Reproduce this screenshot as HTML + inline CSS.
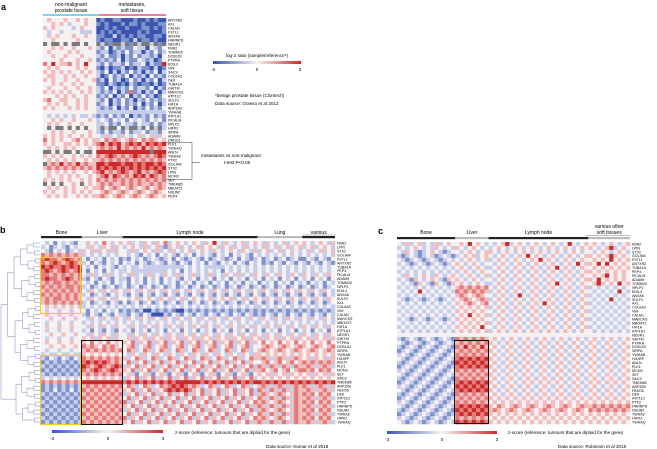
<!DOCTYPE html>
<html><head><meta charset="utf-8">
<style>
html,body{margin:0;padding:0;background:#fff;}
svg{display:block;font-family:"Liberation Sans",sans-serif;}
</style></head>
<body>
<svg id="fig" width="657" height="449" viewBox="0 0 657 449">
<defs>
<linearGradient id="cg" x1="0" x2="1" y1="0" y2="0">
<stop offset="0" stop-color="#3a55b0"/><stop offset="0.5" stop-color="#f6f3f5"/><stop offset="1" stop-color="#cc2a2a"/>
</linearGradient>
</defs>
<text x="1" y="10" font-size="9" font-weight="bold">a</text>
<text x="71" y="6" font-size="5" text-anchor="middle">non-malignant</text>
<text x="71" y="12" font-size="5" text-anchor="middle">prostate tissue</text>
<text x="132" y="6" font-size="5" text-anchor="middle">metastases,</text>
<text x="132" y="12" font-size="5" text-anchor="middle">soft tissue</text>
<rect x="43" y="14" width="56" height="2" fill="#7fd0e8"/>
<rect x="99" y="14" width="67" height="2" fill="#f07a9a"/>
<g id="heatA"></g>
<text x="257" y="57" font-size="4.6" text-anchor="middle">log-2 ratio (sample/reference*)</text>
<rect x="213" y="61" width="88" height="3" fill="url(#cg)"/>
<text x="213" y="71" font-size="4.6" text-anchor="middle">-3</text>
<text x="257" y="71" font-size="4.6" text-anchor="middle">0</text>
<text x="300" y="71" font-size="4.6" text-anchor="middle">3</text>
<text x="215" y="97" font-size="4.6">*benign prostate tissue (Clontech)</text>
<text x="215" y="105" font-size="4.6">Data source: Grasso <tspan font-style="italic">et al</tspan> 2012</text>
<path d="M166 142.5H192V179.5H166M192 162.5H200" fill="none" stroke="#333" stroke-width="0.5"/>
<text x="201" y="157" font-size="4.6">metastases vs non-malignant</text>
<text x="224" y="164" font-size="4.6">t-test P&lt;0.05</text>

<text x="0" y="233" font-size="9" font-weight="bold">b</text>
<g id="hdrB"></g>
<g id="dendB"></g>
<g id="heatB"></g>
<rect x="40.5" y="257.5" width="40" height="56" fill="none" stroke="#f2cf1a" stroke-width="1.2"/>
<rect x="40.5" y="355.5" width="40" height="69" fill="none" stroke="#f2cf1a" stroke-width="1.2"/>
<rect x="81.5" y="340.5" width="41" height="84" fill="none" stroke="#111" stroke-width="1"/>
<rect x="52" y="430" width="111" height="3" fill="url(#cg)"/>
<text x="52" y="440" font-size="4.6" text-anchor="middle">-3</text>
<text x="108" y="440" font-size="4.6" text-anchor="middle">0</text>
<text x="163" y="440" font-size="4.6" text-anchor="middle">3</text>
<text x="175" y="434" font-size="4.6">z-score (reference: tumours that are diploid for the gene)</text>
<text x="266" y="448" font-size="4.6">Data source: Kumar <tspan font-style="italic">et al</tspan> 2016</text>

<text x="378" y="234" font-size="9" font-weight="bold">c</text>
<g id="hdrC"></g>
<g id="heatC"></g>
<rect x="454.5" y="340.5" width="34" height="83" fill="none" stroke="#111" stroke-width="1"/>
<rect x="387" y="431" width="110" height="3" fill="url(#cg)"/>
<text x="387" y="441" font-size="4.6" text-anchor="middle">-3</text>
<text x="442" y="441" font-size="4.6" text-anchor="middle">0</text>
<text x="497" y="441" font-size="4.6" text-anchor="middle">3</text>
<text x="508" y="434" font-size="4.6">z-score (reference: tumours that are diploid for the gene)</text>
<text x="558" y="448" font-size="4.6">Data source: Robinson <tspan font-style="italic">et al</tspan> 2015</text>
</svg>
<script>
const genesA = ["ANTXR2","AXL","CALM1","FSTL1","ANXA6","HNRNPD","NEGR1","FBN2","TOMM20","DCBLD2","PTPRA","EDIL3","VIM","SACS","COL6A3","DEK","TUBA1A","GHITM","MARCKS","ATP11C","SULF2","HIF1A","ANP32B","YWHAB","ATP1A1","PICALM","NPLP2","HIPK2","SIRPA","ADAM9","DNDC6","PLK1","YWHAQ","ANLN","YWHAZ","PTK2","GOLIM4","STX2","LPIN","MCM3","SET","TMEM85","MBOAT2","NSUN2","PEP4"];
const valuesA = [
"3433343343433"+"01001100010010100",
"3343432333433"+"10100010110100011",
"4343333234333"+"00101001000110101",
"3233233332223"+"01010100001010001",
"3434333433433"+"11002010101100110",
"3343333343333"+"10110011020110100",
"g3gg3g3gg3g33"+"g2g1gg2g1g2gg2g1g",
"3343433433343"+"21302121132203213",
"3433334343333"+"12201213122021312",
"3343343334333"+"21311202131221203",
"3333433343343"+"12121302113212013",
"5363445343633"+"21312213122302116",
"3434333343433"+"10201120102110201",
"4343434334343"+"21302021312021302",
"3443343433433"+"20131213021203121",
"4343343343334"+"12031201312021302",
"3343433434333"+"11021010210110201",
"3433343343343"+"21302121312213021",
"4343434334343"+"21213021512021302",
"3334343433433"+"12130213021312013",
"4533443343433"+"21302131202131212",
"3434343343433"+"12302131213021302",
"4343334343433"+"21213021302131213",
"3333333333333"+"22222222222222222",
"3232323232232"+"12131213021213121",
"3343433433343"+"23213231323213231",
"3434334334333"+"22312132213221312",
"3g3gg3g3g3g33"+"2g2gg3g2gg2g3g2g2",
"3343433433343"+"21312213122312213",
"4343434334343"+"32423243234234243",
"5343433453434"+"43545434543545434",
"4343344343434"+"56465645656465656",
"3434343433343"+"45454645454645454",
"gg3g3gg3g3gg3"+"6666666666666g666",
"4343433434343"+"54565454565454565",
"3434343433434"+"45454545454545454",
"g454645464544"+"66566656656566565",
"4545454545454"+"65656565656565656",
"3434343433434"+"56454565456454565",
"3433434343343"+"45646545465646545",
"4343434334343"+"54545454545454545",
"g3g3g3343g343"+"45454454545445454",
"3434343433434"+"45345434543453454",
"4343343434343"+"34543454345434543",
"3434343343434"+"45434543454345434"];

const genesBC = ["FBN2","LPIN","STX2","GOLIM4","FSTL1","ANTXR2","TUBA1A","PEP4","PICALM","ADAM9","TOMM20","NPLP2","EDIL3","ANXA6","SULF2","AXL","COL6A3","VIM","CALM1","MARCKS","MBOAT2","HIF1A","ATP1A1","NEGR1","GHITM","PTPRA","DCBLD2","SIRPA","YWHAB","HJURP","ANLN","PLK1","MCM3","SET","SACS","TMEM85","ANP32B","FBXO5","DEK","ATP11C","PTK2","HNRNPD","NSUN2","YWHAZ","HIPK2","YWHAQ"];
const groupsB = ["Bone","Liver","Lymph node","Lung","various"];
const groupWidthsB = [10,10,33,11,8];
const valuesB = [
"3231323213"+"3432353234"+"342324324352343234324363243234234"+"32432342343"+"43234324",
"2312321323"+"3243243423"+"234324234214324323423432432432432"+"34234234234"+"23423432",
"3213231232"+"4342434243"+"324234324232432342343243234324324"+"23423423432"+"34234234",
"5454545454"+"2323232323"+"323213231323213231323213231323213"+"23232323232"+"32323232",
"5655456545"+"3132313231"+"213231232123132123213123212313212"+"31231231231"+"13213213",
"5456545654"+"2313213231"+"323132123213213213231321323132132"+"31213213213"+"21321321",
"6565565656"+"3231323213"+"232232222222222323232222232323232"+"32323232323"+"23232323",
"5654565456"+"3132313232"+"232222222223231323232323132323232"+"32323232323"+"23232323",
"5545454545"+"3242324232"+"324232423243242324232423243242324"+"32432432432"+"43243243",
"5655456545"+"2132132132"+"213231323132321323132313231323132"+"31323132313"+"23132313",
"4545545454"+"3231323132"+"313231323132313231323132313231323"+"13231323132"+"31323132",
"5454545545"+"2312312312"+"312312312312312312312312312312312"+"31231231231"+"23123123",
"4545454545"+"3243243243"+"243243243243243243243243243243243"+"24324324324"+"32432432",
"5454545454"+"2312321323"+"213213213213213213213213213213213"+"21321321321"+"32132132",
"4545545454"+"3243243243"+"323423432434234234323423434234234"+"32432432432"+"43243243",
"4545454545"+"2312321321"+"312312312312312312312312312312312"+"31231231231"+"23123123",
"3434343434"+"2323232323"+"232323232323232323232323232323232"+"23232323232"+"32323232",
"3233233233"+"3132313231"+"212120021212100212121212121212121"+"21212121212"+"12121212",
"3433433433"+"2132132132"+"213213200021321321321321321321321"+"21321321321"+"32132132",
"3343343343"+"3243243243"+"243243243243243243243243243243243"+"24324324324"+"32432432",
"3233233233"+"2323232323"+"232323232323232323232323232323232"+"23232323232"+"32323232",
"3433433433"+"3243243243"+"324324324324324324324324324324324"+"32432432432"+"43243243",
"3233233233"+"2313213213"+"231323132313231323132313231323132"+"31323132313"+"23132313",
"3343343343"+"3243243243"+"324324324324324324324324324324324"+"32432432432"+"43243243",
"3233233233"+"4342434243"+"342434243424342434243424342434243"+"42434243424"+"34243424",
"3433433433"+"4353435343"+"435243524352435243524352435243524"+"35343534353"+"43534353",
"3343343343"+"5454354543"+"345234523452345234523452345234523"+"34543454345"+"43454345",
"3233233233"+"4545454545"+"354235423542354235423542354235423"+"45434543454"+"34543454",
"2322322322"+"4343434343"+"324324324324324324324324324324324"+"43434343434"+"34343434",
"2132132132"+"5454545454"+"423542354235423542354235423542354"+"45424542454"+"34243424",
"1212121212"+"5656565454"+"352435243524352435243524352435243"+"34534534534"+"54545454",
"2121212121"+"6545654565"+"243524352435243524352435243524352"+"54254254254"+"45424542",
"1212121212"+"5456545654"+"435243524352435243524352435243524"+"45345345345"+"54535453",
"2121212121"+"4545454545"+"342134213421342134213421342134213"+"43424342434"+"34243424",
"2323232323"+"3434343434"+"243524352435243524352435243524352"+"34343434343"+"43434343",
"5454545454"+"6666666666"+"565656565656566666656565656565656"+"65656565656"+"56565656",
"1212121212"+"4545454545"+"354235423545656545423542354235423"+"45424542454"+"54245424",
"1213121312"+"5454545454"+"435243524356565654352435243524352"+"54254254254"+"45424542",
"2121212121"+"4545454545"+"243524352435243524352435243524352"+"45434543454"+"54535453",
"1212121212"+"5454545454"+"352435243524352435243524352435243"+"54254254254"+"45424542",
"2121212121"+"4545454545"+"524352435243524352435243524352435"+"45434543454"+"54535453",
"1212121212"+"5454545454"+"435243524352435243524352435243524"+"54254254254"+"45424542",
"2121212121"+"4545454545"+"243524352435243524352435243524352"+"45434543454"+"54535453",
"1212121212"+"5454545454"+"352435243524352435243524352435243"+"54254254254"+"45424542",
"2121212121"+"4545454545"+"524352435243524352435243524352435"+"45434543454"+"54535453",
"1212121212"+"5454545454"+"435243524352435243524352435243524"+"54254254254"+"45424542"];

const groupsC = ["Bone","Liver","Lymph node","various other soft tissues"];
const groupWidthsC = [14,8,24,10];
const valuesC = [
"32423423242343"+"34363432"+"323462343234323432363234"+"3432343234",
"23234323243232"+"43234323"+"234323432343234323432343"+"4323462343",
"32432123432123"+"32343234"+"432343234323432343234323"+"3234323432",
"21232123212321"+"23434234"+"323432343634323432343234"+"4343464343",
"32123212321232"+"32343234"+"234323432343634323432343"+"3434363434",
"23212321232123"+"43234323"+"323432343234323432343634"+"4363634343",
"32323232323232"+"34323432"+"234323432343234363432343"+"3434343434",
"23232323232323"+"23432343"+"323432343234323432343234"+"4343434343",
"32432343243234"+"32343234"+"234323432343234323432343"+"3434634343",
"23214323432143"+"43234323"+"323432343234323432343234"+"4363434343",
"32321432143214"+"34323432"+"234323432343234363432343"+"3464343634",
"23232323232323"+"45454545"+"323432343234323432343234"+"2323232323",
"32323632323232"+"54545454"+"234323432343234323432343"+"3232323632",
"23232323232323"+"45434543"+"323432363234323432343234"+"2323232323",
"32123212321232"+"34543454"+"234323432343234323432343"+"3232363232",
"23232323232323"+"43454345"+"323432343234363432343234"+"2323232323",
"32323232323232"+"34343434"+"234323432343234323432343"+"3232323232",
"23232323232323"+"43434343"+"323432343234323432343234"+"2323232323",
"32323232323232"+"34363434"+"234323432343234323432343"+"3232323232",
"23212321232123"+"43434343"+"323432343234323432343234"+"2323232323",
"32323232323232"+"34343434"+"234323432343234323432343"+"3232323232",
"23232323232323"+"43434363"+"323432343234323432343234"+"2323232323",
"32323232323232"+"34343434"+"234323432343234323432343"+"3232323232",
"33333333333333"+"33333333"+"333333333333333333333333"+"3333333333",
"21232123212321"+"54545454"+"343234323432343234323432"+"3432343234",
"32123212321232"+"45454545"+"432343234323432343234323"+"4323432343",
"21232123212321"+"54645464"+"343234323432343234323432"+"3432343234",
"12321232123212"+"45454545"+"432343234323432343234323"+"4323432343",
"23212321232123"+"54545454"+"343234323432343234323432"+"3432343234",
"32123212321232"+"56565656"+"432343234323432343234323"+"4323432343",
"21232123212321"+"65656565"+"343234323432343234323432"+"3432343234",
"12321232123212"+"56565656"+"432343234323432343234323"+"4323432343",
"23212321232123"+"54545454"+"343234323432343234323432"+"3432343234",
"32123212321232"+"45454545"+"432343234323432343234323"+"4323432343",
"21232123212321"+"54545454"+"343234323432343234323432"+"3432343234",
"12321232123212"+"56565656"+"432343234343434343234323"+"4343434343",
"23212321232123"+"65656565"+"343234323432343234323432"+"3432343234",
"32123212321232"+"56565656"+"432343234323432343234323"+"4323432343",
"21232123212321"+"54545454"+"343234323432343234323432"+"3432343234",
"12321232123212"+"45454545"+"434343434343434343434343"+"4343434343",
"23212321232123"+"54545454"+"343434343434343434343434"+"3434343434",
"32123212321232"+"56565656"+"435434543454345434543454"+"4545454545",
"21232123212321"+"65656565"+"454345434543454345434543"+"5454545454",
"12321232123212"+"56565656"+"434343434343434343434343"+"4343434343",
"23212321232123"+"54545454"+"343434343434343434343434"+"3434343434",
"32123212321232"+"65656565"+"434343434343434343434343"+"4343434343"];

const NS="http://www.w3.org/2000/svg";
const palette={"0":"#3a55b0","1":"#7f92cc","2":"#c6cdea","3":"#f5f1f3","4":"#f2bdbd","5":"#e47a7a","6":"#cc2a2a","g":"#7a7a7a"};
function mk(tag,attrs,parent){const e=document.createElementNS(NS,tag);for(const k in attrs)e.setAttribute(k,attrs[k]);parent.appendChild(e);return e;}

function drawHeat(gid,vals,genes,x0,x1,y0,y1,lx){
  const g=document.getElementById(gid);
  const nR=vals.length;
  const yScale=r=>y0+(y1-y0)*r/nR;
  vals.forEach((row,r)=>{
    const n=row.length;
    const xScale=c=>x0+(x1-x0)*c/n;
    for(let c=0;c<n;c++){
      const el=mk("rect",{x:xScale(c).toFixed(2),y:yScale(r).toFixed(2),width:((x1-x0)/n+0.3).toFixed(2),height:((y1-y0)/nR+0.3).toFixed(2),fill:palette[row[c]]||"#fff"},g);
      
      
    }
  });
  genes.forEach((gn,r)=>{
    const t=mk("text",{x:lx,y:(yScale(r)+(y1-y0)/nR*0.85).toFixed(2),"font-size":"3.6"},g);
    t.textContent=gn;
    
    
  });
}
function drawHeader(gid,groups,widths,x0,x1,y,labelY,colors){
  const g=document.getElementById(gid);
  const tot=widths.reduce((a,b)=>a+b,0);
  let acc=0;
  groups.forEach((name,i)=>{
    const xa=x0+(x1-x0)*acc/tot, xb=x0+(x1-x0)*(acc+widths[i])/tot;
    const b=mk("rect",{x:xa,y:y,width:xb-xa,height:2.2,fill:colors[i]},g);
    
    
    const lines=name.length>12?["various other","soft tissues"]:[name];
    lines.forEach((ln,j)=>{
      const t=mk("text",{x:(xa+xb)/2,y:labelY-(lines.length-1-j)*6,"font-size":"5","text-anchor":"middle"},g);
      t.textContent=ln;
      
      
    });
    acc+=widths[i];
  });
}

drawHeat("heatA",valuesA,genesA,43,166,18,198,168);
drawHeat("heatB",valuesB,genesBC,41,335,241,424,337);
drawHeat("heatC",valuesC,genesBC,397,630,242,424,632);
drawHeader("hdrB",groupsB,groupWidthsB,41,335,236,234,["#222","#bbb","#222","#bbb","#222"]);
drawHeader("hdrC",groupsC,groupWidthsC,397,630,237,234,["#222","#bbb","#222","#bbb"]);
(function(){
  const g=document.getElementById("hdrB");
  const l=mk("line",{x1:302,x2:335,y1:235,y2:235,stroke:"#555","stroke-width":0.4},g);
  
  
  const gc=document.getElementById("hdrC");
  const l2=mk("line",{x1:586,x2:630,y1:235.5,y2:235.5,stroke:"#555","stroke-width":0.4},gc);
  
  
})();

(function(){
  const g=document.getElementById("dendB");
  const n=genesBC.length, y0=241, y1=424, h=(y1-y0)/n;
  let nodes=[];
  for(let i=0;i<n;i++) nodes.push({y:y0+h*(i+0.5),x:40});
  let depth=0;
  while(nodes.length>1){
    depth++;
    const next=[];
    for(let i=0;i<nodes.length;i+=2){
      if(i+1<nodes.length){
        const a=nodes[i],b=nodes[i+1];
        const x=Math.max(1,40-depth*6.5+((i/2)%3));
        const p=mk("path",{d:`M${a.x} ${a.y}H${x}V${b.y}H${b.x}`,fill:"none",stroke:"#7a86b8","stroke-width":0.5},g);
        
        
        next.push({x:x,y:(a.y+b.y)/2});
      } else next.push(nodes[i]);
    }
    nodes=next;
  }
})();
</script>
</body></html>
